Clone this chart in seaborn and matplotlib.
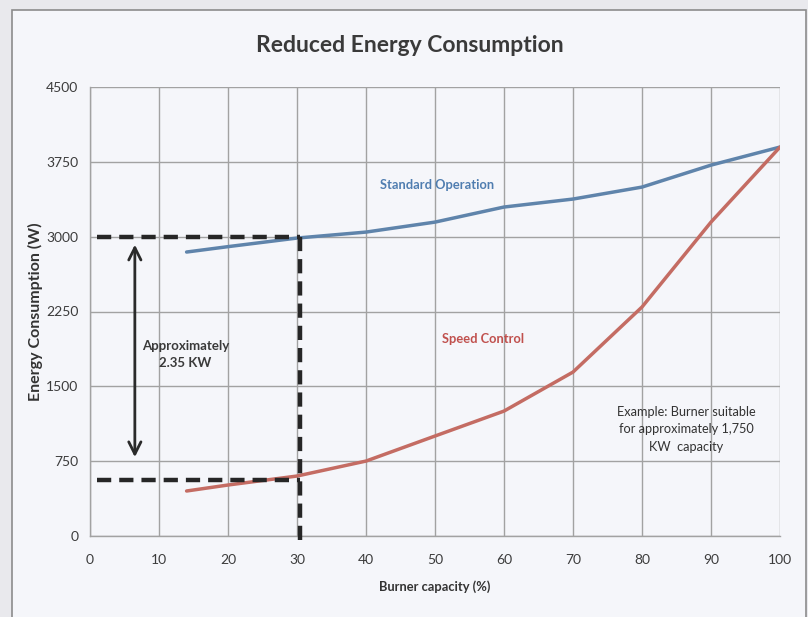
import numpy as np
import pandas as pd
import matplotlib
matplotlib.use("Agg")
import matplotlib.pyplot as plt
import matplotlib.patches as mpatches
import seaborn as sns

# data
capacity = [14, 20, 30, 40, 50, 60, 70, 80, 90, 100]
standard_op = [2846, 2900, 2986, 3046, 3146, 3297, 3377, 3497, 3717, 3898]
speed_ctrl = [451, 511, 601, 751, 1002, 1252, 1643, 2295, 3146, 3898]

y_ticks = [0, 750, 1500, 2250, 3000, 3750, 4500]
x_ticks = [0, 10, 20, 30, 40, 50, 60, 70, 80, 90, 100]

example_cap = 30.5
level_std = 3000
level_speed = 561

df = pd.DataFrame({
    "capacity": capacity * 2,
    "energy": standard_op + speed_ctrl,
    "series": ["Standard Operation"] * len(capacity) + ["Speed Control"] * len(capacity),
})

sns.set_style("white")
plt.rcParams["font.family"] = ["Lato", "DejaVu Sans"]

fig = plt.figure(figsize=(8.08, 6.17), dpi=100)
fig.patch.set_facecolor("#e9e9ed")
fig.add_artist(mpatches.Rectangle((12 / 808, -0.05), 794 / 808, 1.05 - 10 / 617,
                                  transform=fig.transFigure, facecolor="#f5f6fa",
                                  edgecolor="#8c8c8c", lw=1.2, zorder=0))

ax = fig.add_axes([90 / 808, 81 / 617, 690 / 808, 449 / 617])
ax.set_facecolor("none")

sns.lineplot(data=df, x="capacity", y="energy", hue="series",
             palette={"Standard Operation": "#5f84ab", "Speed Control": "#c46c63"},
             lw=2.5, legend=False, ax=ax, zorder=3)

# dashed guide lines
dash = dict(color="#262626", lw=3.2, linestyle=(0, (3.2, 1.8)), zorder=4)
ax.plot([1, example_cap], [level_std, level_std], **dash)
ax.plot([1, example_cap], [level_speed, level_speed], **dash)
ax.plot([example_cap, example_cap], [-40, level_std], clip_on=False, **dash)

ax.annotate("", xy=(6.5, 2920), xytext=(6.5, 790),
            arrowprops=dict(arrowstyle="<->", color="#2a2a2a", lw=2,
                            mutation_scale=22, shrinkA=0, shrinkB=0))

ax.text(13.8, 1820, "Approximately\n2.35 KW", ha="center", va="center",
        fontsize=9.5, fontweight="bold", color="#3a3a3a", linespacing=1.5)
ax.text(50.3, 3517, "Standard Operation", ha="center", va="center",
        fontsize=9.3, fontweight="bold", color="#4f7db0")
ax.text(57, 1974, "Speed Control", ha="center", va="center",
        fontsize=9.3, fontweight="bold", color="#c0504d")
ax.text(86.4, 1072, "Example: Burner suitable\nfor approximately 1,750\nKW  capacity",
        ha="center", va="center", fontsize=9.2, color="#333333", linespacing=1.55)

ax.set_xlim(0, 100)
ax.set_ylim(0, 4500)
ax.set_xticks(x_ticks)
ax.set_yticks(y_ticks)
ax.grid(True, color="#a2a2a2", lw=1)
for side in ["top", "right"]:
    ax.spines[side].set_visible(False)
for side in ["left", "bottom"]:
    ax.spines[side].set_color("#a2a2a2")
    ax.spines[side].set_linewidth(1)
ax.tick_params(axis="both", length=5, width=1, color="#a2a2a2",
               labelsize=10, labelcolor="#3c3c3c", direction="out")
ax.tick_params(axis="x", pad=8)

ax.set_xlabel("Burner capacity (%)", fontsize=9.3, fontweight="bold",
              color="#333333", labelpad=10)
ax.set_ylabel("Energy Consumption (W)", fontsize=11.5, fontweight="bold",
              color="#333333")
ax.yaxis.set_label_coords(-0.068, 0.5)
fig.text(410 / 808, 1 - 46 / 617, "Reduced Energy Consumption", ha="center",
         va="center", fontsize=16.5, fontweight="bold", color="#3a3a3a")

fig.savefig("out.png", dpi=100, facecolor=fig.get_facecolor())
